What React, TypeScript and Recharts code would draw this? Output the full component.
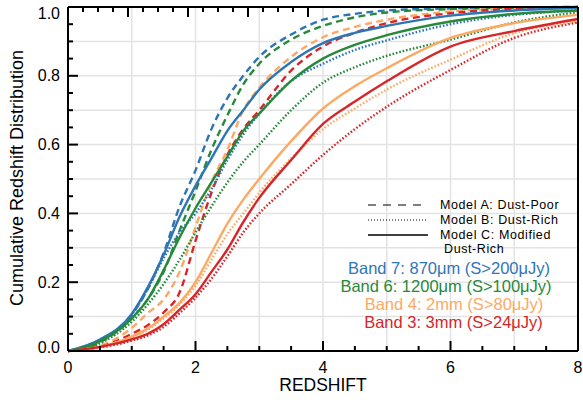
import { LineChart, Line, XAxis, YAxis, CartesianGrid, Legend, Label } from 'recharts'

const redshift = [0, 0.5, 1, 1.25, 1.5, 1.75, 2, 2.25, 2.5, 2.75, 3, 3.5, 4, 4.5, 5, 6, 7, 8]

// Model A: Dust-Poor (dashed)
const band7A = [0, 0.03, 0.105, 0.18, 0.285, 0.42, 0.525, 0.645, 0.735, 0.8, 0.855, 0.92, 0.963, 0.98, 0.99, 0.996, 0.999, 1.0]
const band6A = [0, 0.025, 0.095, 0.15, 0.23, 0.35, 0.465, 0.585, 0.685, 0.775, 0.835, 0.905, 0.945, 0.97, 0.984, 0.994, 0.998, 1.0]
const band4A = [0, 0.015, 0.067, 0.11, 0.15, 0.23, 0.36, 0.49, 0.585, 0.7, 0.765, 0.855, 0.912, 0.942, 0.963, 0.987, 0.996, 1.0]
const band3A = [0, 0.012, 0.05, 0.075, 0.112, 0.17, 0.32, 0.46, 0.57, 0.645, 0.7, 0.815, 0.885, 0.925, 0.953, 0.982, 0.995, 1.0]

// Model B: Dust-Rich (dotted)
const band7B = [0, 0.033, 0.105, 0.18, 0.27, 0.345, 0.4, 0.47, 0.555, 0.63, 0.69, 0.785, 0.835, 0.875, 0.903, 0.95, 0.977, 0.99]
const band6B = [0, 0.022, 0.085, 0.135, 0.195, 0.265, 0.345, 0.42, 0.49, 0.55, 0.6, 0.7, 0.78, 0.825, 0.858, 0.905, 0.955, 0.985]
const band4B = [0, 0.012, 0.04, 0.062, 0.095, 0.135, 0.19, 0.265, 0.34, 0.4, 0.46, 0.56, 0.645, 0.705, 0.76, 0.847, 0.924, 0.958]
const band3B = [0, 0.01, 0.03, 0.045, 0.07, 0.11, 0.155, 0.21, 0.275, 0.345, 0.4, 0.485, 0.57, 0.645, 0.71, 0.817, 0.91, 0.955]

// Model C: Modified Dust-Rich (solid)
const band7C = [0, 0.033, 0.108, 0.185, 0.28, 0.39, 0.48, 0.56, 0.64, 0.7, 0.76, 0.84, 0.895, 0.925, 0.945, 0.975, 0.99, 0.997]
const band6C = [0, 0.028, 0.095, 0.15, 0.235, 0.33, 0.415, 0.49, 0.565, 0.64, 0.69, 0.785, 0.85, 0.89, 0.918, 0.958, 0.98, 0.99]
const band4C = [0, 0.012, 0.042, 0.065, 0.1, 0.14, 0.2, 0.285, 0.37, 0.44, 0.5, 0.61, 0.705, 0.77, 0.822, 0.91, 0.953, 0.977]
const band3C = [0, 0.012, 0.034, 0.05, 0.078, 0.12, 0.165, 0.23, 0.295, 0.375, 0.445, 0.555, 0.66, 0.725, 0.784, 0.885, 0.93, 0.965]

const xTicks = [0, 0.5, 1, 1.5, 2, 2.5, 3, 3.5, 4, 4.5, 5, 5.5, 6, 6.5, 7, 7.5, 8]
const yTicks = [0, 0.05, 0.1, 0.15, 0.2, 0.25, 0.3, 0.35, 0.4, 0.45, 0.5, 0.55, 0.6, 0.65, 0.7, 0.75, 0.8, 0.85, 0.9, 0.95, 1.0]
const xGrid = [1, 2, 3, 4, 5, 6, 7]
const yGrid = [0.1, 0.2, 0.3, 0.4, 0.5, 0.6, 0.7, 0.8, 0.9]

const BLUE = '#2e75b6'
const GREEN = '#27893a'
const ORANGE = '#fca964'
const RED = '#d7262a'
const FONT = '"Liberation Sans", Arial, Helvetica, sans-serif'

const series = [
  { key: 'b7a', vals: band7A, color: BLUE, dash: '7 4.5' },
  { key: 'b6a', vals: band6A, color: GREEN, dash: '7 4.5' },
  { key: 'b4a', vals: band4A, color: ORANGE, dash: '7 4.5' },
  { key: 'b3a', vals: band3A, color: RED, dash: '7 4.5' },
  { key: 'b7b', vals: band7B, color: BLUE, dash: '1.6 1.9' },
  { key: 'b6b', vals: band6B, color: GREEN, dash: '1.6 1.9' },
  { key: 'b4b', vals: band4B, color: ORANGE, dash: '1.6 1.9' },
  { key: 'b3b', vals: band3B, color: RED, dash: '1.6 1.9' },
  { key: 'b7c', vals: band7C, color: BLUE, dash: undefined },
  { key: 'b6c', vals: band6C, color: GREEN, dash: undefined },
  { key: 'b4c', vals: band4C, color: ORANGE, dash: undefined },
  { key: 'b3c', vals: band3C, color: RED, dash: undefined }
]

const data = redshift.map((z, i) => {
  const row: any = { z }
  series.forEach((s) => {
    row[s.key] = s.vals[i]
  })
  return row
})

const isMajorX = (v: number) => Math.abs(v / 2 - Math.round(v / 2)) < 1e-6
const isMajorY = (v: number) => Math.abs(v * 5 - Math.round(v * 5)) < 1e-6

// inward ticks: major 10px, minor 5px
function BottomTick(props: any) {
  const x = Number(props.x)
  const y = Number(props.y)
  const v = props.payload.value
  const major = isMajorX(v)
  return (
    <g>
      <path d={`M${x},${y}V${y - (major ? 10 : 5)}`} stroke="#000" strokeWidth={2} fill="none" />
      {major && (
        <text x={x} y={y + 16} textAnchor="middle" dominantBaseline="central" fontSize={16} fontFamily={FONT} fill="#000">
          {v}
        </text>
      )}
    </g>
  )
}

function TopTick(props: any) {
  const x = Number(props.x)
  const y = Number(props.y)
  const major = isMajorX(props.payload.value)
  return <path d={`M${x},${y}V${y + (major ? 10 : 5)}`} stroke="#000" strokeWidth={2} fill="none" />
}

function LeftTick(props: any) {
  const x = Number(props.x)
  const y = Number(props.y)
  const v = props.payload.value
  const major = isMajorY(v)
  const ty = Math.min(Math.max(y, 13), 347)
  return (
    <g>
      <path d={`M${x},${y}H${x + (major ? 10 : 5)}`} stroke="#000" strokeWidth={2} fill="none" />
      {major && (
        <text x={x - 8} y={ty} textAnchor="end" dominantBaseline="central" fontSize={16} fontFamily={FONT} fill="#000">
          {v.toFixed(1)}
        </text>
      )}
    </g>
  )
}

function RightTick(props: any) {
  const x = Number(props.x)
  const y = Number(props.y)
  const major = isMajorY(props.payload.value)
  return <path d={`M${x},${y}H${x - (major ? 10 : 5)}`} stroke="#000" strokeWidth={2} fill="none" />
}

function Overlay() {
  return (
    <svg width={583} height={402} style={{ position: 'absolute', left: 0, top: 0 }}>
      <g fontFamily={FONT}>
        <line x1={368} y1={205} x2={428} y2={205} stroke="#000" strokeWidth={1.2} strokeDasharray="8 7" />
        <line x1={368} y1={220} x2={428} y2={220} stroke="#000" strokeWidth={1} strokeDasharray="1 2" />
        <line x1={368} y1={235} x2={428} y2={235} stroke="#000" strokeWidth={1.3} />
        <g fontSize={12.5} letterSpacing={0.6} fill="#000">
          <text x={440} y={205} dominantBaseline="central">Model A: Dust-Poor</text>
          <text x={440} y={220} dominantBaseline="central">Model B: Dust-Rich</text>
          <text x={440} y={234.5} dominantBaseline="central">Model C: Modified</text>
          <text x={444} y={249} dominantBaseline="central">Dust-Rich</text>
        </g>
        <text x={449} y={268} fontSize={16.5} textAnchor="middle" dominantBaseline="central" fill={BLUE}>Band 7: 870μm (S&gt;200μJy)</text>
        <text x={446} y={286} fontSize={16.5} textAnchor="middle" dominantBaseline="central" fill={GREEN}>Band 6: 1200μm (S&gt;100μJy)</text>
        <text x={454} y={303.5} fontSize={16.5} textAnchor="middle" dominantBaseline="central" fill={ORANGE}>Band 4: 2mm (S&gt;80μJy)</text>
        <text x={453.5} y={321.5} fontSize={16.5} textAnchor="middle" dominantBaseline="central" fill={RED}>Band 3: 3mm (S&gt;24μJy)</text>
      </g>
    </svg>
  )
}

export default function App() {
  return (
    <div style={{ position: 'absolute', left: 0, top: 0, width: 583, height: 402, background: '#fff' }}>
      <LineChart width={583} height={402} data={data} margin={{ top: 6, right: 4, bottom: 0, left: 0 }}>
        <CartesianGrid stroke="#e3e3e3" strokeWidth={1.5} verticalValues={xGrid} horizontalValues={yGrid} />
        {series.map((s) => (
          <Line
            key={s.key}
            dataKey={s.key}
            type="monotone"
            stroke={s.color}
            strokeWidth={2.4}
            strokeDasharray={s.dash}
            dot={false}
            activeDot={false}
            isAnimationActive={false}
          />
        ))}
        <XAxis
          dataKey="z"
          type="number"
          domain={[0, 8]}
          ticks={xTicks}
          interval={0}
          height={51}
          tickSize={0}
          tickMargin={0}
          tickLine={false}
          tick={BottomTick}
          axisLine={{ stroke: '#000', strokeWidth: 2 }}
        >
          <Label
            content={(p: any) => (
              <text x={p.viewBox.x + p.viewBox.width / 2} y={385} textAnchor="middle" dominantBaseline="central" fontSize={17.5} fontFamily={FONT} fill="#000">
                REDSHIFT
              </text>
            )}
          />
        </XAxis>
        <XAxis
          xAxisId="top"
          orientation="top"
          type="number"
          domain={[0, 8]}
          ticks={xTicks}
          interval={0}
          height={1}
          tickSize={0}
          tickMargin={0}
          tickLine={false}
          tick={TopTick}
          axisLine={{ stroke: '#000', strokeWidth: 2 }}
        />
        <YAxis
          type="number"
          domain={[0, 1]}
          ticks={yTicks}
          interval={0}
          width={68}
          tickSize={0}
          tickMargin={0}
          tickLine={false}
          tick={LeftTick}
          axisLine={{ stroke: '#000', strokeWidth: 2 }}
        >
          <Label
            content={() => (
              <text x={17} y={178} transform="rotate(-90 17 178)" textAnchor="middle" dominantBaseline="central" fontSize={18} fontFamily={FONT} fill="#000">
                Cumulative Redshift Distribution
              </text>
            )}
          />
        </YAxis>
        <YAxis
          yAxisId="right"
          orientation="right"
          type="number"
          domain={[0, 1]}
          ticks={yTicks}
          interval={0}
          width={1}
          tickSize={0}
          tickMargin={0}
          tickLine={false}
          tick={RightTick}
          axisLine={{ stroke: '#000', strokeWidth: 2 }}
        />
        <Legend verticalAlign="middle" align="center" layout="horizontal" content={Overlay} wrapperStyle={{ left: 0, top: 0, width: 583, height: 402, pointerEvents: 'none' }} />
      </LineChart>
    </div>
  )
}
